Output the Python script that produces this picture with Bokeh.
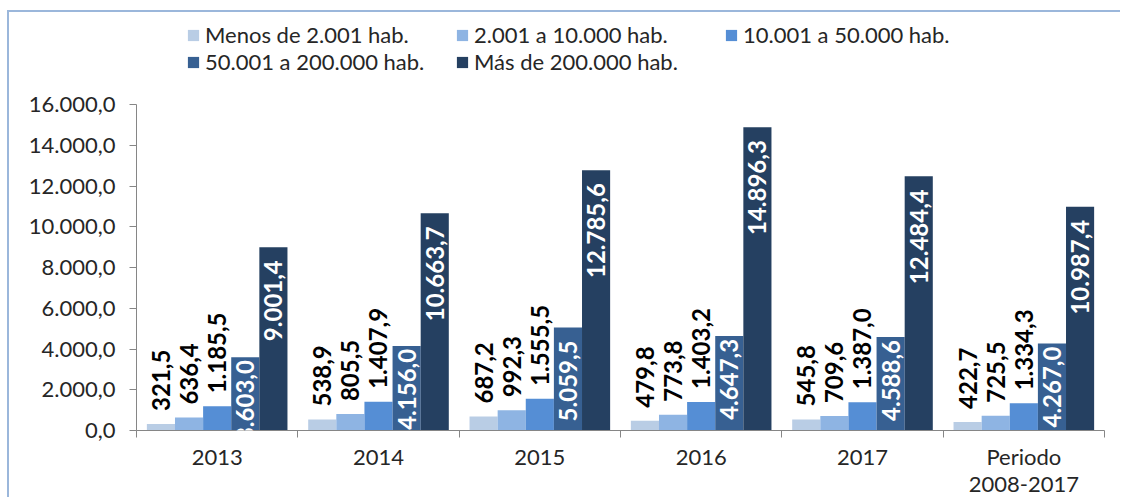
from bokeh.plotting import figure
from bokeh.models import (Range1d, FixedTicker, LinearAxis, ColumnDataSource,
                          LabelSet, Legend, LegendItem)
from bokeh.core.properties import value
from bokeh.transform import dodge
from bokeh.embed import file_html
from bokeh.resources import INLINE

categories = ["2013", "2014", "2015", "2016", "2017", "Periodo\n2008-2017"]
series_names = ["Menos de 2.001 hab.", "2.001 a 10.000 hab.", "10.001 a 50.000 hab.",
                "50.001 a 200.000 hab.", "Más de 200.000 hab."]
menos_2001 = [321.5, 538.9, 687.2, 479.8, 545.8, 422.7]
de_2001_a_10000 = [636.4, 805.5, 992.3, 773.8, 709.6, 725.5]
de_10001_a_50000 = [1185.5, 1407.9, 1555.5, 1403.2, 1387.0, 1334.3]
de_50001_a_200000 = [3603.0, 4156.0, 5059.5, 4647.3, 4588.6, 4267.0]
mas_200000 = [9001.4, 10663.7, 12785.6, 14896.3, 12484.4, 10987.4]
series_values = [menos_2001, de_2001_a_10000, de_10001_a_50000, de_50001_a_200000, mas_200000]
colors = ["#b9cde5", "#8eb4e3", "#558ed5", "#376092", "#254061"]
y_ticks = [0, 2000, 4000, 6000, 8000, 10000, 12000, 14000, 16000]
y_tick_labels = ["0,0", "2.000,0", "4.000,0", "6.000,0", "8.000,0", "10.000,0",
                 "12.000,0", "14.000,0", "16.000,0"]

FONT = "Lato"


def fmt(v):
    s = f"{v:,.1f}"
    return s.replace(",", "X").replace(".", ",").replace("X", ".")


n_cat = len(categories)
bar_w = 0.1743
# frame spans the canvas from the top (legend lives inside it); 16000 sits 92px from the top
frame_h = 417
plot_px = frame_h - 92
y_end = 16000 * frame_h / plot_px

p = figure(width=1113, height=487, x_range=Range1d(0, n_cat), y_range=Range1d(0, y_end),
           output_backend="svg", toolbar_location=None, x_axis_type=None, y_axis_type=None,
           min_border_left=127, min_border_right=18, min_border_top=0, min_border_bottom=0)
p.styles = {"margin-left": "7px", "margin-top": "10px",
            "border-top": "2px solid #9bb7db", "border-left": "2px solid #9bb7db"}
p.outline_line_color = None
p.background_fill_color = "white"
p.border_fill_color = "white"

# axes
yaxis = LinearAxis(ticker=FixedTicker(ticks=y_ticks), bounds=(0, 16000))
yaxis.major_label_overrides = {t: l for t, l in zip(y_ticks, y_tick_labels)}
yaxis.major_label_text_font = FONT
yaxis.major_label_text_font_size = "22px"
yaxis.major_label_text_color = "#262626"
yaxis.axis_line_color = "#868686"
yaxis.major_tick_line_color = "#868686"
yaxis.major_tick_in = 0
yaxis.major_tick_out = 7
yaxis.minor_tick_line_color = None
yaxis.major_label_standoff = 14
p.add_layout(yaxis, "left")

centers = [i + 0.5 for i in range(n_cat)]
bounds = list(range(n_cat + 1))
xaxis = LinearAxis(ticker=FixedTicker(ticks=centers, minor_ticks=bounds))
xaxis.major_label_overrides = {c: l for c, l in zip(centers, categories)}
xaxis.major_label_text_font = FONT
xaxis.major_label_text_font_size = "22px"
xaxis.major_label_text_color = "#262626"
xaxis.major_label_text_line_height = 1.0
xaxis.axis_line_color = "#868686"
xaxis.major_tick_line_color = None
xaxis.major_tick_in = 0
xaxis.major_tick_out = 7
xaxis.minor_tick_line_color = "#868686"
xaxis.minor_tick_in = 0
xaxis.minor_tick_out = 7
xaxis.major_label_standoff = 5
p.add_layout(xaxis, "below")

p.ygrid.ticker = FixedTicker(ticks=y_ticks[1:])
p.ygrid.grid_line_color = "#a6a6a6"
p.ygrid.grid_line_dash = "3 1"
p.ygrid.grid_line_width = 1
p.xgrid.visible = False

renderers = []
for k, (name, vals, col) in enumerate(zip(series_names, series_values, colors)):
    off = (k - 2) * bar_w
    inside = k >= 3
    # inside-end labels sit 13px below the bar top when the bar is tall enough, else hug the top
    if inside:
        yoff = [-13 if v * plot_px / 16000 >= 100 else -3 for v in vals]
    else:
        yoff = [13] * len(vals)
    src = ColumnDataSource(dict(x=centers, top=vals, lab=[fmt(v) for v in vals], yoff=yoff))
    r = p.vbar(x=dodge("x", off, range=p.x_range), top="top", width=bar_w, bottom=0,
               source=src, fill_color=col, line_color=None)
    renderers.append(r)
    labels = LabelSet(x=dodge("x", off, range=p.x_range), y="top", text="lab", source=src,
                      angle=1.5707963, text_font=value(FONT), text_font_style="bold",
                      text_font_size="24px",
                      text_color="white" if inside else "black",
                      text_align="right" if inside else "left",
                      text_baseline="middle",
                      y_offset="yoff")
    p.add_layout(labels)

leg1 = Legend(items=[LegendItem(label=series_names[i], renderers=[renderers[i]]) for i in range(3)],
              orientation="horizontal", location=(50, 382))
leg2 = Legend(items=[LegendItem(label=series_names[i], renderers=[renderers[i]]) for i in range(3, 5)],
              orientation="horizontal", location=(50, 355))
for lg in (leg1, leg2):
    lg.label_text_font = FONT
    lg.label_text_font_size = "22px"
    lg.label_text_color = "#262626"
    lg.glyph_width = 14
    lg.glyph_height = 14
    lg.label_standoff = 5
    lg.label_width = 250
    lg.label_height = 20
    lg.spacing = 0
    lg.padding = 0
    lg.margin = 0
    lg.border_line_color = None
    lg.background_fill_alpha = 0
    p.add_layout(lg, "center")

open("out.html", "w").write(file_html(p, INLINE))
